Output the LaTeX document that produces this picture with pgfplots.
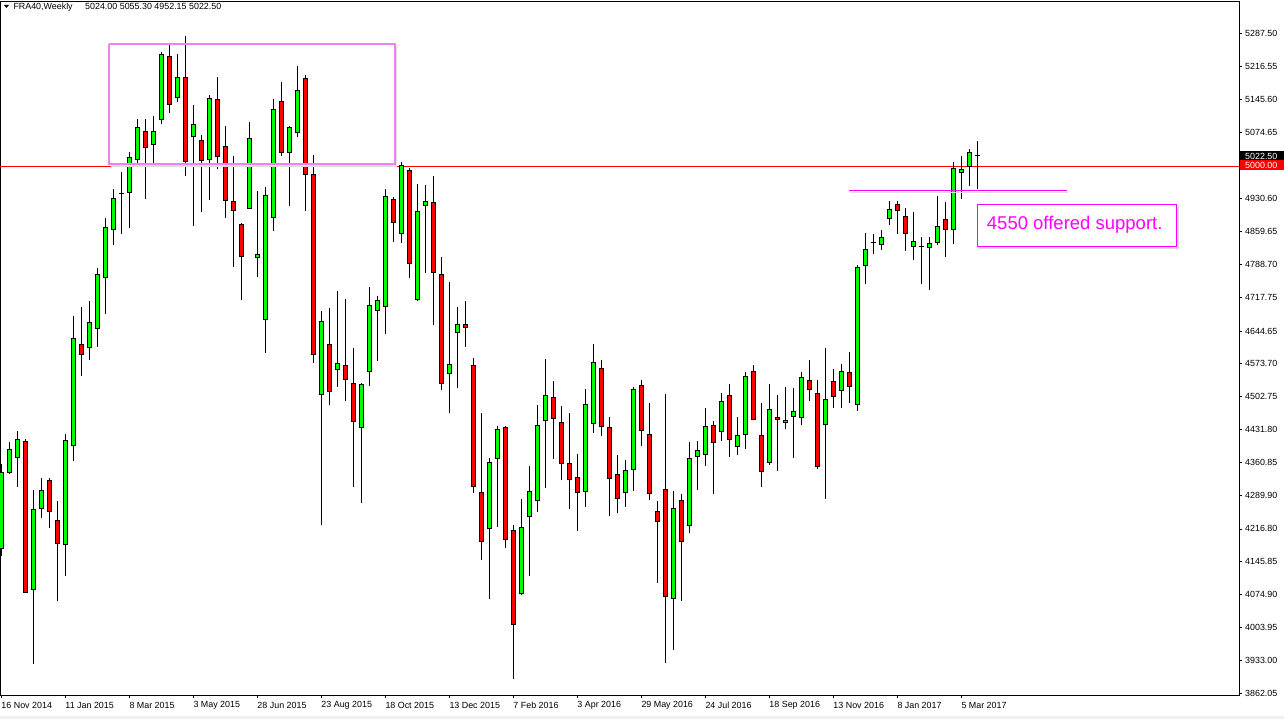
\documentclass[border=0pt]{standalone}
\usepackage{fontspec}
\setmainfont{Liberation Sans}
\usepackage{pgfplots}
\usepackage{pgfplotstable}
\pgfplotsset{compat=1.18}

\definecolor{bull}{RGB}{0,255,0}
\definecolor{bear}{RGB}{255,0,0}
\definecolor{boxviolet}{RGB}{238,130,238}
\definecolor{supmag}{RGB}{255,0,255}

% weekly FRA40 candles, i = week index from 16 Nov 2014
\pgfplotstableread{
i O H L C
0 4173.7 4356.7 4159.3 4339.3
1 4337.4 4404.8 4335.5 4389.4
2 4370.2 4428.9 4308.5 4410.6
3 4406.8 4411.6 4077.4 4079.3
4 4085.1 4300.8 3925.3 4260.4
5 4260.4 4325.9 4241.1 4300.8
6 4323.0 4327.8 4219.9 4252.7
7 4236.3 4277.7 4060.1 4185.3
8 4181.4 4422.2 4115.9 4408.7
9 4395.2 4676.4 4364.4 4629.2
10 4617.7 4695.7 4547.4 4593.6
11 4609.0 4709.1 4583.0 4663.9
12 4649.4 4780.4 4610.9 4768.8
13 4759.2 4888.3 4682.2 4870.0
14 4863.2 4952.8 4830.5 4932.6
15 4941.2 4987.4 4855.5 4943.1
16 4943.1 5032.7 4867.1 5021.1
17 5014.4 5103.0 5001.9 5085.7
18 5078.0 5103.0 4929.7 5039.4
19 5046.2 5109.7 5001.9 5078.0
20 5100.1 5247.5 5092.4 5242.6
21 5239.8 5267.7 5115.5 5133.8
22 5148.3 5243.6 5140.6 5194.5
23 5194.5 5283.1 4980.7 5009.6
24 5063.5 5133.8 4870.9 5092.4
25 5057.7 5067.4 4901.7 5011.5
26 5015.4 5156.0 4928.7 5148.3
27 5146.3 5194.5 4994.2 5021.1
28 5045.2 5088.6 4888.3 4925.8
29 4924.8 5024.0 4782.3 4904.6
30 4876.7 4878.6 4711.1 4804.5
31 4908.5 5096.3 4907.5 5062.6
32 4803.5 4948.0 4761.1 4812.2
33 4668.7 4955.7 4597.4 4938.3
34 4889.2 5146.3 4861.3 5125.2
35 5142.5 5183.9 5023.1 5029.8
36 5029.8 5088.6 4915.2 5086.6
37 5072.2 5217.6 5063.5 5165.6
38 5192.6 5198.3 4903.7 4982.6
39 4984.6 5026.0 4576.2 4593.6
40 4505.9 4687.0 4224.7 4665.8
41 4617.7 4693.7 4483.8 4512.7
42 4560.8 4732.2 4524.2 4576.2
43 4570.5 4713.0 4493.4 4539.6
44 4531.9 4607.1 4308.5 4447.2
45 4435.6 4531.9 4273.9 4530.0
46 4555.1 4739.0 4526.2 4701.4
47 4688.9 4719.7 4580.1 4711.1
48 4697.6 4950.9 4638.8 4936.4
49 4929.7 4934.5 4838.2 4878.6
50 4855.5 5009.6 4835.3 5002.9
51 4993.2 4998.0 4759.2 4790.0
52 4712.0 4963.4 4710.1 4904.6
53 4915.2 4961.4 4769.8 4925.8
54 4923.9 4978.8 4658.1 4770.8
55 4768.8 4805.4 4517.5 4530.0
56 4551.2 4749.6 4466.5 4574.3
57 4640.8 4695.7 4522.3 4659.1
58 4659.1 4709.1 4610.9 4651.4
59 4570.5 4585.9 4295.0 4306.6
60 4296.0 4467.4 4148.7 4188.2
61 4216.1 4371.1 4065.9 4360.5
62 4368.2 4438.5 4221.9 4433.7
63 4436.6 4438.5 4175.6 4193.0
64 4214.2 4224.7 3892.5 4010.0
65 4075.5 4281.6 4074.5 4220.9
66 4243.0 4351.9 4115.9 4297.9
67 4277.7 4483.8 4252.7 4442.4
68 4450.1 4584.9 4304.7 4506.9
69 4503.1 4536.8 4368.2 4454.9
70 4447.2 4481.9 4322.0 4356.7
71 4358.6 4466.5 4260.4 4322.0
72 4328.8 4378.8 4211.3 4294.1
73 4297.0 4519.4 4263.3 4487.6
74 4443.3 4615.7 4425.1 4578.2
75 4563.7 4582.0 4418.3 4436.6
76 4436.6 4458.8 4244.0 4323.9
77 4336.5 4376.9 4250.7 4281.6
78 4294.1 4366.3 4265.2 4345.1
79 4345.1 4523.3 4297.9 4520.4
80 4527.1 4538.7 4395.2 4427.9
81 4422.2 4488.6 4278.7 4292.2
82 4254.6 4277.7 4100.5 4231.5
83 4302.8 4507.9 3927.2 4069.7
84 4065.9 4298.9 3956.1 4262.3
85 4278.7 4292.2 4062.0 4188.2
86 4223.8 4404.8 4207.4 4370.2
87 4372.1 4407.7 4301.8 4386.5
88 4376.9 4479.0 4351.9 4439.5
89 4442.4 4449.1 4293.1 4401.9
90 4426.0 4510.8 4406.8 4494.4
91 4506.9 4530.0 4373.1 4408.7
92 4393.3 4458.8 4375.9 4419.3
93 4419.3 4556.0 4389.4 4548.3
94 4558.9 4570.5 4452.0 4453.0
95 4419.3 4488.6 4308.5 4339.3
96 4358.6 4530.0 4355.7 4476.1
97 4459.7 4505.9 4341.3 4453.0
98 4446.2 4523.3 4431.8 4453.0
99 4459.7 4521.4 4369.2 4471.3
100 4455.9 4556.0 4440.5 4544.5
101 4539.6 4582.0 4494.4 4516.5
102 4509.8 4539.6 4347.0 4349.9
103 4441.4 4607.1 4281.6 4498.2
104 4537.7 4561.8 4479.0 4501.1
105 4515.6 4573.4 4479.0 4558.9
106 4555.1 4599.4 4489.6 4524.2
107 4485.7 4788.1 4471.3 4783.3
108 4785.2 4857.4 4746.7 4821.8
109 4835.3 4855.5 4811.2 4837.2
110 4831.4 4863.2 4819.9 4847.8
111 4886.3 4926.8 4873.8 4908.5
112 4919.1 4924.8 4854.6 4904.6
113 4893.1 4910.4 4818.0 4853.6
114 4826.6 4902.7 4798.7 4839.1
115 4825.7 4848.8 4746.7 4825.7
116 4824.7 4847.8 4733.2 4835.3
117 4835.3 4936.4 4831.4 4871.9
118 4887.3 4922.9 4804.5 4863.2
119 4863.2 5010.6 4832.4 4998.0
120 4985.5 5022.1 4929.7 4995.1
121 4999.0 5038.5 4957.6 5031.7
122 5024.00 5055.30 4952.15 5022.50
}\fra

\begin{document}
\begin{tikzpicture}
\useasboundingbox (0,0) rectangle (1284pt,719pt);
\fill[white] (0,0) rectangle (1284pt,719pt);
\fill[gray!12] (0,0) rectangle (1284pt,3pt);
\begin{axis}[
    at={(0pt,23.5pt)}, anchor=south west,
    scale only axis, width=1239pt, height=694.5pt,
    xmin=-0.1625, xmax=154.7125, ymin=3856.7, ymax=5358.2,
    axis line style={black, line width=0.8pt},
    clip mode=individual,
    xtick={0,8,...,120},
    xticklabels={16 Nov 2014, 11 Jan 2015, 8 Mar 2015, 3 May 2015, 28 Jun 2015,
        23 Aug 2015, 18 Oct 2015, 13 Dec 2015, 7 Feb 2016, 3 Apr 2016, 29 May 2016,
        24 Jul 2016, 18 Sep 2016, 13 Nov 2016, 8 Jan 2017, 5 Mar 2017},
    ytick={5287.50,5216.55,5145.60,5074.65,4930.60,4859.65,4788.70,4717.75,4644.65,
        4573.70,4502.75,4431.80,4360.85,4289.90,4216.80,4145.85,4074.90,4003.95,3933.00,3862.05},
    yticklabels={5287.50,5216.55,5145.60,5074.65,4930.60,4859.65,4788.70,4717.75,4644.65,
        4573.70,4502.75,4431.80,4360.85,4289.90,4216.80,4145.85,4074.90,4003.95,3933.00,3862.05},
    xtick pos=left, ytick pos=right, yticklabel pos=right,
    tick align=outside, major tick length=3pt,
    tick style={black, line width=0.8pt},
    tick label style={font=\fontsize{8.9}{10}\selectfont, black},
    xticklabel style={anchor=west, inner sep=0pt, yshift=-7pt},
    yticklabel style={anchor=west, inner sep=0pt, xshift=3pt},
]
% horizontal line at 5000
\addplot[bear, line width=1pt, forget plot] coordinates {(-1,5000) (160,5000)};

% wicks
\addplot[draw=none, mark=none, forget plot,
    error bars/.cd, y dir=plus, y explicit, error mark=none,
    error bar style={draw=black, line width=1pt}]
    table[x=i, y=L, y error plus expr=\thisrow{H}-\thisrow{L}] {\fra};
% body outlines
\addplot[draw=none, mark=none, forget plot,
    error bars/.cd, y dir=plus, y explicit, error mark=none,
    error bar style={draw=black, line width=5pt}]
    table[x=i, y expr={min(\thisrow{O},\thisrow{C})},
          y error plus expr={max(abs(\thisrow{C}-\thisrow{O}),2.2)}] {\fra};
% bull bodies
\addplot[draw=none, mark=none, forget plot,
    error bars/.cd, y dir=plus, y explicit, error mark=none,
    error bar style={draw=bull, line width=3pt}]
    table[x=i, y expr=\thisrow{O}+2.16,
          y error plus expr={max(\thisrow{C}-\thisrow{O}-4.32,0)}] {\fra};
% bear bodies
\addplot[draw=none, mark=none, forget plot,
    error bars/.cd, y dir=plus, y explicit, error mark=none,
    error bar style={draw=bear, line width=3pt}]
    table[x=i, y expr=\thisrow{C}+2.16,
          y error plus expr={max(\thisrow{O}-\thisrow{C}-4.32,0)}] {\fra};

% resistance zone
\addplot[gray!25, line width=1.5pt, forget plot] coordinates {(13.7,5001.5) (49.43,5001.5) (49.43,5261)};
\addplot[boxviolet, line width=2pt, line cap=square, forget plot]
    coordinates {(13.46,5265.2) (49.18,5265.2) (49.18,5005.8) (13.46,5005.8) (13.46,5265.2)};
% support line
\addplot[gray!25, line width=1.2pt, forget plot] coordinates {(106.1,4944.6) (133.4,4944.6)};
\addplot[supmag, line width=1.2pt, forget plot] coordinates {(105.96,4948.9) (133.2,4948.9)};
% text box
\addplot[draw=gray!30, fill=gray!30, line width=1pt, forget plot]
    coordinates {(122.2,4914.6) (147.1,4914.6) (147.1,4823.8) (122.2,4823.8) (122.2,4914.6)};
\addplot[draw=supmag, fill=white, line width=1pt, line cap=square, forget plot]
    coordinates {(122.0,4917.8) (146.9,4917.8) (146.9,4827.0) (122.0,4827.0) (122.0,4917.8)};
\node[anchor=base west, inner sep=0pt, text=supmag, font=\fontsize{18.5}{20}\selectfont]
    at (axis cs:123.18,4864.6) {4550 offered support.};
\end{axis}

% title
\fill[black] (4pt,714pt) -- (9pt,714pt) -- (6.5pt,711pt) -- cycle;
\node[anchor=base west, inner sep=0pt, font=\fontsize{8.9}{10}\selectfont] at (13.3pt,709pt) {FRA40,Weekly};
\node[anchor=base west, inner sep=0pt, font=\fontsize{8.9}{10}\selectfont] at (85pt,709pt) {5024.00 5055.30 4952.15 5022.50};

% price labels on the scale
\fill[black] (1240pt,558.5pt) rectangle (1284pt,568pt);
\node[anchor=base west, inner sep=0pt, text=white, font=\fontsize{8.9}{10}\selectfont] at (1245pt,559.7pt) {5022.50};
\fill[bear] (1240pt,548.5pt) rectangle (1284pt,558.5pt);
\node[anchor=base west, inner sep=0pt, text=white, font=\fontsize{8.9}{10}\selectfont] at (1245pt,550.7pt) {5000.00};
\end{tikzpicture}
\end{document}
